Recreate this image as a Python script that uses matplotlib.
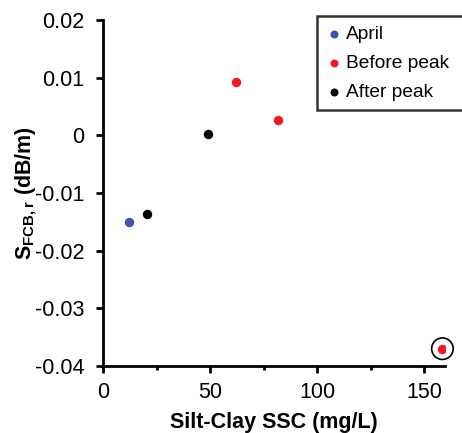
import matplotlib
matplotlib.use("Agg")
import matplotlib.pyplot as plt

plt.rcParams['font.family'] = ['Liberation Sans', 'DejaVu Sans']
plt.rcParams['mathtext.fontset'] = 'custom'
plt.rcParams['mathtext.rm'] = 'Liberation Sans'
plt.rcParams['mathtext.bf'] = 'Liberation Sans:bold'

april_x = [12.2]
april_y = [-0.0151]
before_x = [62.2, 81.6, 158.6]
before_y = [0.0092, 0.0027, -0.0370]
after_x = [20.4, 49.1]
after_y = [-0.0137, 0.0002]
circled_x = [158.6]
circled_y = [-0.0370]

W, H = 462, 433
fig = plt.figure(figsize=(W/100, H/100), dpi=100)
ax = fig.add_axes([103.3/W, 1-366/H, (445.4-103.3)/W, (366-20)/H])

ms = 46
ax.scatter(april_x, april_y, s=ms, color='#3A56A8', label='April', zorder=3, linewidths=0)
ax.scatter(before_x, before_y, s=ms, color='#EC1C24', label='Before peak', zorder=3, linewidths=0)
ax.scatter(after_x, after_y, s=ms, color='#000000', label='After peak', zorder=3, linewidths=0)
ax.scatter(circled_x, circled_y, s=240, facecolors='none', edgecolors='black', linewidths=1.2, zorder=2, clip_on=False)

ax.set_xlim(0, 160)
ax.set_ylim(-0.04, 0.02)
ax.set_xticks([0, 50, 100, 150])
ax.set_xticks([25, 75, 125], minor=True)
ax.set_yticks([-0.04, -0.03, -0.02, -0.01, 0, 0.01, 0.02])
ax.set_yticklabels(['-0.04', '-0.03', '-0.02', '-0.01', '0', '0.01', '0.02'])
for s in ['top', 'right']:
    ax.spines[s].set_visible(False)
for s in ['left', 'bottom']:
    ax.spines[s].set_linewidth(2)
ax.tick_params(which='major', direction='out', length=4.8, width=2, labelsize=15.5)
ax.tick_params(which='minor', direction='out', length=3, width=2)
ax.tick_params(axis='y', which='major', pad=9)
ax.tick_params(axis='x', which='major', pad=7)

ax.set_xlabel('Silt-Clay SSC (mg/L)', fontsize=15.5, fontweight='bold', labelpad=6)
ax.set_ylabel(r'$\mathbf{S_{FCB,r}}$ (dB/m)', fontsize=15.5, fontweight='bold', labelpad=-3)

leg = fig.legend(loc='upper left', bbox_to_anchor=(317/W, 1-20.7/H, 160/W, 0.01), mode='expand',
                 frameon=True, fancybox=False, edgecolor='black', fontsize=13.8, handletextpad=0.25,
                 handlelength=0.8, borderpad=0.47, labelspacing=0.62, borderaxespad=0,
                 markerscale=0.85)
leg.get_frame().set_linewidth(1.8)

fig.savefig('out.png', dpi=100)
